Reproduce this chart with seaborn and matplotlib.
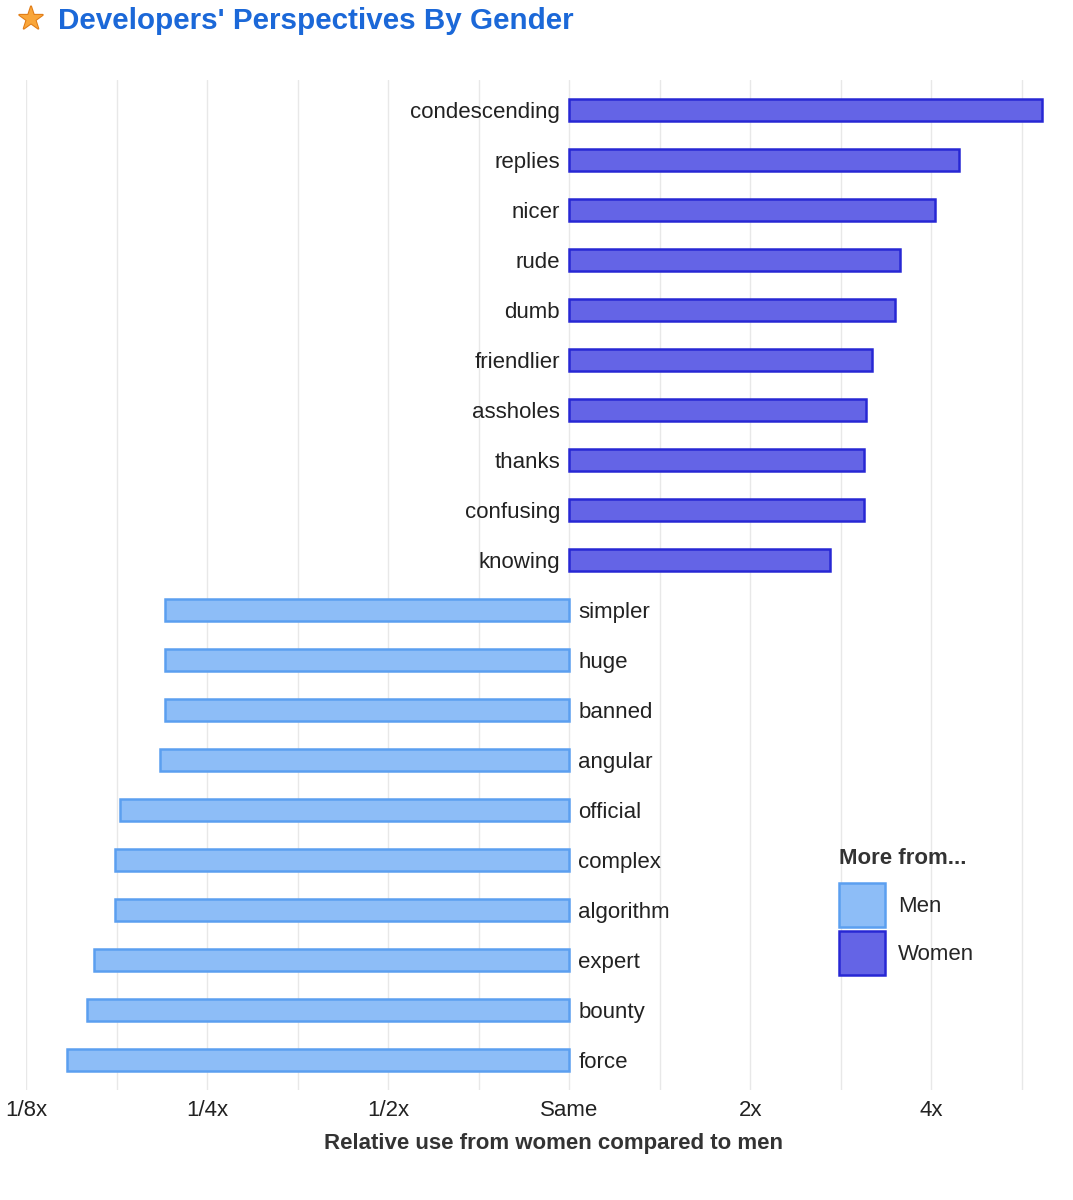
import numpy as np
import pandas as pd
import matplotlib
matplotlib.use("Agg")
import matplotlib.pyplot as plt
import matplotlib.patheffects as pe
from matplotlib.patches import Patch
import seaborn as sns

# words, top to bottom
words = ["condescending", "replies", "nicer", "rude", "dumb", "friendlier",
         "assholes", "thanks", "confusing", "knowing",
         "simpler", "huge", "banned", "angular", "official", "complex",
         "algorithm", "expert", "bounty", "force"]
# relative use from women compared to men (ratio)
ratios = [6.1, 4.44, 4.06, 3.55, 3.48, 3.19, 3.12, 3.09, 3.09, 2.71,
          0.213, 0.213, 0.213, 0.209, 0.179, 0.176, 0.176, 0.162, 0.158, 0.146]
genders = ["Women"] * 10 + ["Men"] * 10

tick_vals = [1 / 8, 1 / 4, 1 / 2, 1, 2, 4]
tick_labels = ["1/8x", "1/4x", "1/2x", "Same", "2x", "4x"]

men_fill, men_edge = "#8dbdf7", "#5b9ff0"
women_fill, women_edge = "#6464e6", "#2727d4"

df = pd.DataFrame({"word": words, "ratio": ratios, "gender": genders})
df["log_ratio"] = np.log2(df["ratio"])

sns.set_theme(style="white")
plt.rcParams["font.family"] = ["Liberation Sans", "DejaVu Sans"]

W, H = 1073, 1200
fig = plt.figure(figsize=(W / 100, H / 100), dpi=100)
ax = fig.add_axes([26 / W, 1 - 1090 / H, (1049 - 26) / W, (1090 - 80) / H])

sns.barplot(data=df, x="log_ratio", y="word", hue="gender", order=words,
            hue_order=["Men", "Women"], palette={"Men": men_fill, "Women": women_fill},
            dodge=False, width=0.44, orient="h", legend=False, saturation=1,
            ax=ax, zorder=3)

edges = {"Men": men_edge, "Women": women_edge}
for cont, g in zip(ax.containers, ["Men", "Women"]):
    for bar in cont:
        bar.set_edgecolor(edges[g])
        bar.set_linewidth(1.8)

# word labels beside the "Same" line
fs = 16
for i, row in df.iterrows():
    if row["log_ratio"] >= 0:
        ax.annotate(row["word"], (0, i), xytext=(-6.5, -1.5), textcoords="offset points",
                    ha="right", va="center", fontsize=fs, color="#222222")
    else:
        ax.annotate(row["word"], (0, i), xytext=(6.5, -1.5), textcoords="offset points",
                    ha="left", va="center", fontsize=fs, color="#222222")

ax.set_xlim(-3, 2.65)
ax.set_ylim(len(words) - 0.4, -0.6)
ax.set_xticks(np.log2(tick_vals))
ax.set_xticklabels(tick_labels)
ax.grid(False)
for xv in np.arange(-3, 3, 0.5):
    ax.axvline(xv, color="#e8e8e8", lw=1, zorder=0)
ax.tick_params(axis="x", which="both", length=0, labelsize=fs, labelcolor="#222222", pad=7)
ax.set_yticks([])
ax.set_ylabel("")
ax.set_xlabel("Relative use from women compared to men", fontsize=fs,
              fontweight="bold", color="#333333", labelpad=9)
ax.xaxis.set_label_coords(0.516, -0.043)
for s in ax.spines.values():
    s.set_visible(False)

# legend (title drawn separately so the gap above the swatches matches)
fig.text(839 / W, 1 - 858 / H, "More from...", fontsize=fs, fontweight="bold",
         color="#333333", ha="left", va="center")
handles = [Patch(facecolor=men_fill, edgecolor=men_edge, linewidth=1.8, label="Men"),
           Patch(facecolor=women_fill, edgecolor=women_edge, linewidth=1.8, label="Women")]
fig.legend(handles=handles, loc="upper left",
           bbox_to_anchor=(828 / W, 1 - 872 / H), frameon=False, fontsize=fs,
           handlelength=2.05, handleheight=2.65, handletextpad=0.6,
           labelspacing=0.2, borderpad=0)

# title with star
fig.text(31 / W, 1 - 20 / H, "★", family="DejaVu Sans", fontsize=22, color="#f9a63a",
         ha="center", va="center",
         path_effects=[pe.withStroke(linewidth=1.5, foreground="#e07b16")])
fig.text(58 / W, 1 - 21 / H, "Developers' Perspectives By Gender", fontsize=21.3,
         fontweight="bold", color="#1b68d8", ha="left", va="center")

fig.savefig("out.png", dpi=100)
